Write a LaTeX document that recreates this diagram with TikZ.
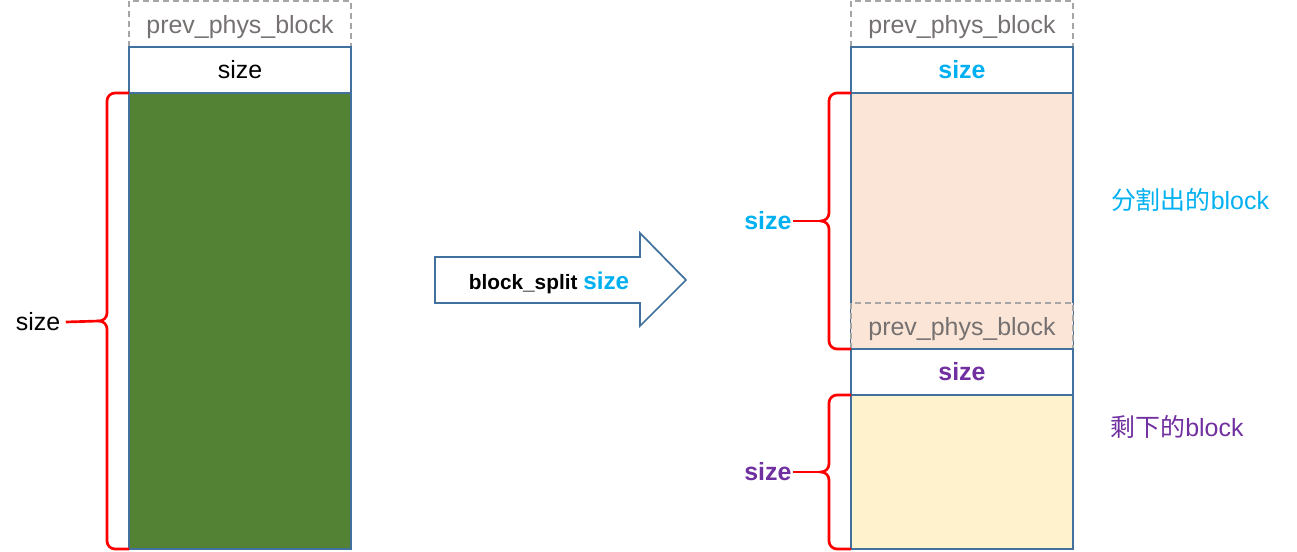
\documentclass[tikz,border=0pt]{standalone}
\usepackage{fontspec}
\setmainfont{Liberation Sans}
\newfontfamily\cjk{Noto Sans CJK SC}
\usetikzlibrary{positioning,calc}

\definecolor{cellblue}{HTML}{41719C}
\definecolor{bodygreen}{HTML}{548235}
\definecolor{splitpeach}{HTML}{FBE5D6}
\definecolor{restyellow}{HTML}{FFF2CC}
\definecolor{splitcyan}{HTML}{00B0F0}
\definecolor{restpurple}{HTML}{7030A0}
\definecolor{dashgray}{HTML}{A6A6A6}
\definecolor{textgray}{HTML}{767171}

\begin{document}
\begin{tikzpicture}[x=0.75pt, y=-0.75pt,
  cell/.style={draw=cellblue, line width=1.5pt, fill=white, minimum width=166.5pt,
    minimum height=34.5pt, inner sep=0pt, outer sep=0pt,
    font=\fontsize{18.7}{22}\selectfont},
  prevbox/.style={cell, draw=dashgray, line width=1.3pt, dash pattern=on 4.5pt off 3pt,
    text=textgray, text height=14pt, text depth=0pt},
  redbrace/.style={draw=red, line width=2pt},
  sizelabel/.style={inner sep=1pt, font=\fontsize{18.7}{22}\selectfont\bfseries}]
  \useasboundingbox (0,0) rectangle (1297,552);

  % block before the split
  \node[prevbox] (lprev) at (240,24) {prev\_phys\_block};
  \node[cell] (lsize) [below=0pt of lprev] {size};
  \node[cell, fill=bodygreen, minimum height=342pt] (lbody) [below=0pt of lsize] {};

  % blocks after the split
  \node[prevbox] (rprev) at (962,24) {prev\_phys\_block};
  \node[cell, text=splitcyan, font=\fontsize{18.7}{22}\selectfont\bfseries] (rsize) [below=0pt of rprev] {size};
  \node[cell, fill=splitpeach, minimum height=192pt] (rsplit) [below=0pt of rsize] {};
  \node[prevbox, fill=splitpeach, anchor=south] (rinner) at (rsplit.south) {prev\_phys\_block};
  \node[cell, text=restpurple, font=\fontsize{18.7}{22}\selectfont\bfseries] (rrestsize) [below=0pt of rsplit] {size};
  \node[cell, fill=restyellow, minimum height=115.5pt] (rrest) [below=0pt of rrestsize] {};

  % the arrow
  \draw[draw=cellblue, line width=1.3pt] (435,257) -- (640,257) -- (640,233) -- (686,280)
    -- (640,326) -- (640,303) -- (435,303) -- cycle;
  \node (splitlbl) at (549,283) {\fontsize{15.6}{18}\selectfont\bfseries block\_split
    \textcolor{splitcyan}{\fontsize{18.2}{20}\selectfont size}};

  % size labels
  \node[font=\fontsize{18.7}{22}\selectfont, inner sep=4pt] (lsizelbl) at (38,322) {size};
  \node[sizelabel, text=splitcyan, anchor=east] (splitlbl2) at (793,221) {size};
  \node[sizelabel, text=restpurple, anchor=east] (restlbl) at (793,472) {size};

  \node[text=splitcyan, font=\fontsize{18.7}{22}\selectfont] (splitname) at (1190,200) {{\cjk 分割出的}block};
  \node[text=restpurple, font=\fontsize{18.7}{22}\selectfont] (restname) at (1177,427) {{\cjk 剩下的}block};

  % braces
  \draw[redbrace] (lbody.north west) -- ++(-14,0) to[out=180,in=90] ++(-8,8)
    -- ($(lbody.west)+(-22,-8)$) to[out=-90,in=0] ($(lbody.west)+(-30,0)$)
    coordinate (ltip) to[out=0,in=90] ($(lbody.west)+(-22,8)$)
    -- ($(lbody.south west)+(-22,-8)$) to[out=-90,in=180] ($(lbody.south west)+(-14,0)$)
    -- (lbody.south west);
  \draw[redbrace] (ltip) -- (lsizelbl.east);

  \draw[redbrace] (rsplit.north west) -- ++(-14,0) to[out=180,in=90] ++(-8,8)
    -- ($(rsplit.west)+(-22,-8)$) to[out=-90,in=0] ($(rsplit.west)+(-30,0)$)
    coordinate (stip) to[out=0,in=90] ($(rsplit.west)+(-22,8)$)
    -- ($(rsplit.south west)+(-22,-8)$) to[out=-90,in=180] ($(rsplit.south west)+(-14,0)$)
    -- (rsplit.south west);
  \draw[redbrace] (stip) -- (splitlbl2.east);

  \draw[redbrace] (rrest.north west) -- ++(-14,0) to[out=180,in=90] ++(-8,8)
    -- ($(rrest.west)+(-22,-8)$) to[out=-90,in=0] ($(rrest.west)+(-30,0)$)
    coordinate (rtip) to[out=0,in=90] ($(rrest.west)+(-22,8)$)
    -- ($(rrest.south west)+(-22,-8)$) to[out=-90,in=180] ($(rrest.south west)+(-14,0)$)
    -- (rrest.south west);
  \draw[redbrace] (rtip) -- (restlbl.east);
\end{tikzpicture}
\end{document}
